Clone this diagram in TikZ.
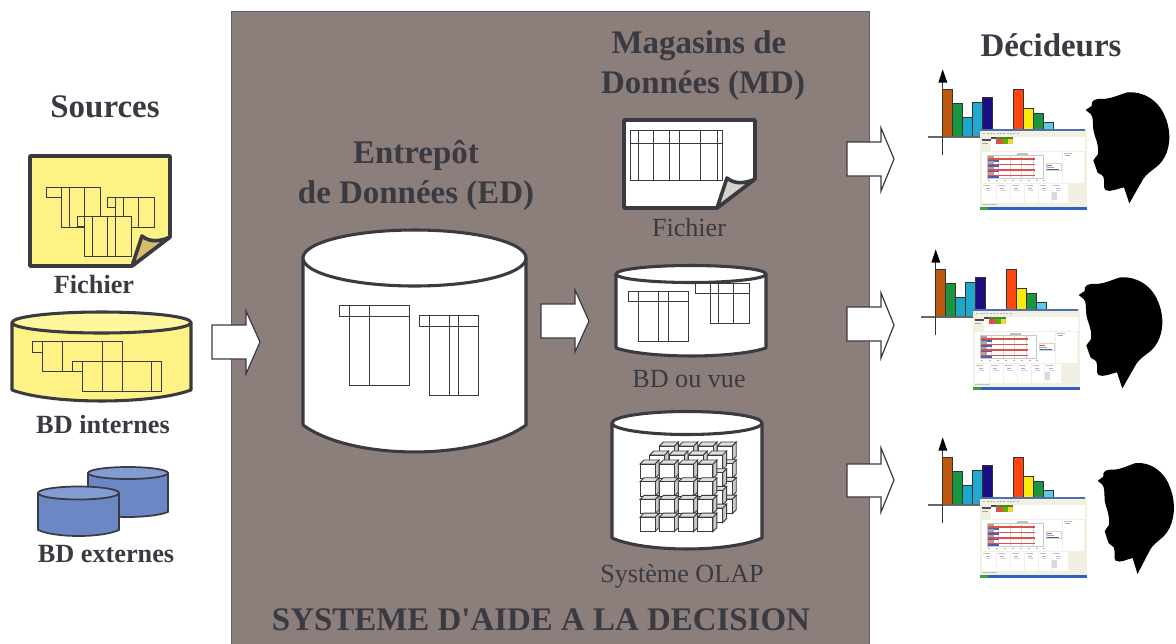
\documentclass[tikz,border=0pt]{standalone}
\usepackage{fontspec}
\setmainfont{Liberation Serif}
\newfontfamily\titlefont{Liberation Serif}
\definecolor{ink}{HTML}{3A3A42}
\definecolor{panel}{HTML}{8C7E7A}
\definecolor{pale}{HTML}{FFF285}
\definecolor{paler}{HTML}{FFF69E}
\definecolor{foldy}{HTML}{D4BE6E}
\definecolor{foldw}{HTML}{D8D2CE}
\definecolor{bleu}{HTML}{6B88C4}
\definecolor{bleut}{HTML}{839CD4}
\definecolor{cubes}{HTML}{CFC8C4}
\definecolor{scrbg}{HTML}{F2F0E2}
\definecolor{scrbl}{HTML}{4F6FB5}
\tikzset{
  heading/.style={font=\bfseries\fontsize{24.7}{30}\selectfont,text=ink,align=center,inner sep=0pt},
  srclabel/.style={font=\bfseries\fontsize{19.7}{22}\selectfont,text=ink,inner sep=0pt},
  mdlabel/.style={font=\fontsize{19.6}{22}\selectfont,text=ink,inner sep=0pt},
  outline/.style={draw=ink,line width=2.3pt,line join=round},
  sheetline/.style={draw=ink,line width=2.7pt,line join=round},
  thinout/.style={draw=ink,line width=1.3pt,line join=round},
  tablerule/.style={draw=ink,line width=.75pt},
  bigarrow/.style={draw=ink,line width=.9pt,fill=white,line join=miter},
}
% cylinder: xl xr yc ry yend rybottom body top style
\newcommand{\cyl}[9]{%
  \pgfmathsetmacro{\cylcx}{(#1+#2)/2}%
  \pgfmathsetmacro{\cylrx}{(#2-#1)/2}%
  \pgfmathsetmacro{\cylA}{#1+0.22*(#2-#1)}%
  \pgfmathsetmacro{\cylB}{#2-0.22*(#2-#1)}%
  \pgfmathsetmacro{\cylY}{#5+1.33*#6}%
  \path[#9,fill=#7] (#1,#3) -- (#1,#5) .. controls (\cylA,\cylY) and (\cylB,\cylY) .. (#2,#5) -- (#2,#3) -- cycle;
  \path[#9,fill=#8] (\cylcx,#3) ellipse [x radius=\cylrx,y radius=#4];
}
% table: x0 y0 x1 y1 stubx stuby fill verticals
\newcommand{\tbl}[8]{%
  \path[tablerule,fill=#7] (#5,#2) rectangle (#3,#4);
  \path[tablerule,fill=#7] (#1,#2) rectangle (#5,#6);
  \foreach \vx in {#8} {\draw[tablerule] (\vx,#2) -- (\vx,#4);}
}
\newcommand{\hdr}[3]{\draw[tablerule] (#1,#3) -- (#2,#3);}
% sheet: l t r b fill foldfill style
\newcommand{\sheet}[7]{%
  \path[#7,fill=#5] (#1,#2) -- (#3,#2) -- (#3,#4-29) -- (#3-38,#4) -- (#1,#4) -- cycle;
  \path[#7,fill=#6] (#3-38,#4) -- (#3-28,#4-30) .. controls (#3-20,#4-23) and (#3-8,#4-25) .. (#3,#4-29) -- cycle;
}
\newcommand{\barr}[4]{\path[draw=black!80,line width=.9pt,fill=#4] (#1,230) rectangle (#2,#3);}
\newcommand{\barrb}[4]{\path[draw=black!80,line width=.9pt,fill=#4] (#1,210) rectangle (#2,#3);}
\definecolor{c1}{HTML}{BC5A10}
\definecolor{c2}{HTML}{1A9640}
\definecolor{c3}{HTML}{1EA8C8}
\definecolor{c4}{HTML}{22A8CC}
\definecolor{c5}{HTML}{1C0E80}
\definecolor{c6}{HTML}{FF4510}
\definecolor{c7}{HTML}{FBE910}
\definecolor{c8}{HTML}{60C8E0}
\definecolor{c9}{HTML}{3060C0}
\definecolor{c10}{HTML}{3CA040}
\definecolor{sred}{HTML}{E0504A}
\definecolor{sblue}{HTML}{4A60B0}
% chart + screen, in 3x zoom coordinates
\newcommand{\deciderart}[2]{%
\begin{scope}[shift={(#1,#2)},x=.25pt,y=-.25pt]
  \barr{68}{98}{88}{c1}
  \barr{98}{128}{130}{c2}
  \barr{128}{158}{172}{c3}
  \barr{158}{188}{127}{c4}
  \barr{188}{218}{112}{c5}
  \barrb{280}{310}{88}{c6}
  \barrb{310}{340}{145}{c7}
  \barrb{340}{370}{160}{c2}
  \barrb{370}{400}{187}{c8}
  \draw[gray!80!black,line width=1.3pt] (25,230) -- (180,230);
  \draw[black!80,line width=.9pt] (68,60) -- (68,285);
  \fill[black] (68,28) -- (82,68) -- (55,68) -- cycle;
  % screen
  \fill[scrbg] (180,208) rectangle (500,450);
  \fill[scrbl] (180,208) rectangle (495,214);
  \foreach \tx in {190,200,...,290} {\fill[gray!60] (\tx,219) rectangle ++(6,3);}
  \fill[white] (213,232) rectangle (495,272);
  \fill[black!70] (185,238) rectangle (213,243);
  \fill[gray!70] (185,249) rectangle (205,252);
  \fill[black!70] (213,232) rectangle (228,238);
  \fill[green!45!black!80] (228,232) rectangle (280,238);
  \fill[sred] (228,238) rectangle (250,252);
  \fill[green!50!yellow!70!black] (250,238) rectangle (265,252);
  \fill[yellow!60!orange!80] (265,238) rectangle (280,252);
  \fill[white] (185,275) rectangle (425,370);
  \draw[gray!45,line width=.4pt] (203,286) rectangle (370,355);
  \foreach \gx in {235,270,305,340} {\draw[gray!35,line width=.3pt] (\gx,286) -- (\gx,355);}
  \foreach \gy in {288,304,320,337} {
    \fill[gray!70] (203,\gy) rectangle (222,\gy+7);
    \fill[sred] (203,\gy+7) rectangle (346,\gy+12);
    \fill[sblue] (203,\gy+12) rectangle (238,\gy+17);
  }
  \fill[gray!50] (290,280) rectangle (325,284);
  \foreach \gx in {203,228,252,276,300,324,348,370} {\fill[gray!60] (\gx,359) rectangle ++(6,3);}
  \draw[gray!35,line width=.3pt] (378,311) rectangle (424,332);
  \fill[sred] (381,315) rectangle ++(14,3);
  \fill[gray!70] (381,321) rectangle ++(22,3);
  \fill[sblue] (381,326) rectangle ++(35,3);
  \fill[white] (430,276) rectangle (493,370);
  \fill[gray!50] (433,279) rectangle ++(24,3);
  \fill[blue!40] (435,284) rectangle ++(14,3);
  \foreach \pa/\pb in {187/228,231/270,273/312,315/353,356/394,397/443} {
    \fill[white] (\pa,373) rectangle (\pb,428);
    \fill[gray!50] (\pa+3,376) rectangle ++(20,2);
    \fill[blue!35] (\pa+10,383) rectangle ++(12,3);
    \fill[gray!35] (\pa+10,389) rectangle ++(16,2);
  }
  \fill[gray!30] (397,395) rectangle (412,420);
  \fill[gray!50] (185,432) rectangle (230,435);
  \fill[c9] (180,441) rectangle (500,450);
  \fill[c10] (180,441) rectangle (205,450);
\end{scope}}
% silhouette in 3x zoom coordinates of the first head
\newcommand{\silhouette}[3]{%
\begin{scope}[shift={(#1,#2)},xscale=#3,x=.25pt,y=-.25pt]
  \fill[black] (497,150) -- (515,138) .. controls (512,122) and (525,115) .. (547,117)
   .. controls (575,116) and (595,105) .. (622,97)
   .. controls (668,93) and (716,120) .. (735,170)
   .. controls (755,215) and (752,270) .. (725,305)
   .. controls (705,330) and (680,335) .. (665,365)
   -- (628,430) -- (612,382)
   .. controls (595,385) and (570,398) .. (556,390)
   .. controls (548,382) and (556,365) .. (550,350)
   .. controls (545,340) and (532,345) .. (530,330)
   -- (520,302) .. controls (525,290) and (538,285) .. (534,275)
   .. controls (536,250) and (525,235) .. (520,210)
   .. controls (518,185) and (520,170) .. (512,162) -- cycle;
\end{scope}}
\newcommand{\rarrow}[8]{\path[bigarrow] (#1,#3) -- (#2,#3) -- (#2,#5) -- (#6,#7) -- (#2,#8) -- (#2,#4) -- (#1,#4) -- cycle;}
\begin{document}
\begin{tikzpicture}[x=.75pt,y=-.75pt]
\useasboundingbox (0,0) rectangle (1176,643);
\fill[white] (0,0) rectangle (1176,643);
% panel
\path[draw=ink!80,line width=.7pt,fill=panel] (231,11) -- (869,11) -- (869,650) -- (231,650) -- cycle;

% Sources
\node[heading] (sources) at (105,107) {Sources};
\sheet{30}{156}{170}{266}{pale}{foldy}{sheetline}
\tbl{46}{187}{100}{227}{61}{197}{pale}{69,84}
\tbl{107}{197}{154}{227}{115}{207}{pale}{123,138}
\tbl{77}{216}{131}{256}{84}{226}{pale}{92,107,115}
\node[srclabel] (fichiersrc) at (94,285) {Fichier};
\cyl{12}{191}{322.5}{10.5}{390}{11}{pale}{paler}{outline}
\tbl{32}{341}{122}{371}{42}{352}{pale}{62,102}
\tbl{72}{361}{161}{391}{82}{371}{pale}{102,122,151}
\node[srclabel] (internes) at (103,425) {BD internes};
\cyl{88}{168}{473}{6}{512}{5}{bleu}{bleut}{thinout}
\cyl{38}{119}{493}{6.5}{530}{6}{bleu}{bleut}{thinout}
\node[srclabel] (externes) at (106,554) {BD externes};

% Entrepot
\node[heading] (ed) at (416,175) {Entrepôt\\de Données (ED)};
\cyl{303}{526}{258}{28}{425}{27}{white}{white}{outline}
\tbl{339}{305}{409}{385}{349}{316}{white}{369}
\hdr{349}{409}{316}
\tbl{419}{315}{478}{395}{429}{326}{white}{449,458}
\hdr{429}{478}{326}

% Magasins
\node[heading] (md) at (703,66) {Magasins de\hspace*{.25em}\\Données (MD)};
\sheet{624}{120}{755}{208}{white}{foldw}{sheetline}
\tbl{630}{130}{722}{180}{630}{130}{white}{638,653,669,679,700,717}
\hdr{630}{722}{143}
\node[mdlabel] (fichiermd) at (689,228) {Fichier};
\cyl{616}{766}{274}{8.5}{348}{8}{white}{white}{outline}
\tbl{628}{291}{688}{341}{638}{301}{white}{658,668}
\hdr{638}{688}{301}
\tbl{695}{283}{749}{323}{710}{293}{white}{718,733}
\hdr{710}{749}{293}
\node[mdlabel] (vue) at (689,379) {BD ou vue};
\cyl{612}{762}{423}{11.5}{538}{11}{white}{white}{outline}
% cube
\foreach \lay in {2,1,0} {
  \foreach \rowi in {0,1,2,3} {
    \foreach \coli in {3,2,1,0} {
      \pgfmathsetmacro{\cux}{640+19.3*\coli+9.7*\lay}
      \pgfmathsetmacro{\cuy}{464+17.7*\rowi-9*\lay}
      \begin{scope}[shift={(\cux,\cuy)}]
        \path[draw=ink,line width=.65pt,fill=cubes] (15,0) -- (19,-4) -- (19,10.5) -- (15,14.5) -- cycle;
        \path[draw=ink,line width=.65pt,fill=cubes!60] (0,0) -- (4,-4) -- (19,-4) -- (15,0) -- cycle;
        \path[draw=ink,line width=.65pt,fill=white] (0,0) rectangle (15,14.5);
      \end{scope}
    }
  }
}
\node[mdlabel] (olap) at (682,576) {Système OLAP};

% arrows
\rarrow{212}{246}{325}{359}{311}{260}{342}{374}
\rarrow{541}{575}{304}{338}{290}{589}{321}{352}
\rarrow{847}{881}{142}{176}{128}{894}{159}{191}
\rarrow{847}{881}{307}{341}{293}{894}{325}{358}
\rarrow{847}{881}{464}{497}{448}{894}{480}{512}

% Deciders
\node[heading] (dec) at (1051,45) {Décideurs};
\deciderart{920}{60}
\silhouette{920}{60}{1}
\deciderart{913}{240}
\silhouette{913}{245}{1}
\deciderart{920}{428}
\silhouette{947}{430.7}{.91}

% title
\node[font=\titlefont\bfseries\fontsize{24.7}{30}\selectfont,text=ink,inner sep=0pt] (titre) at (541,620) {SYSTEME D'AIDE A LA DECISION};
\end{tikzpicture}
\end{document}
